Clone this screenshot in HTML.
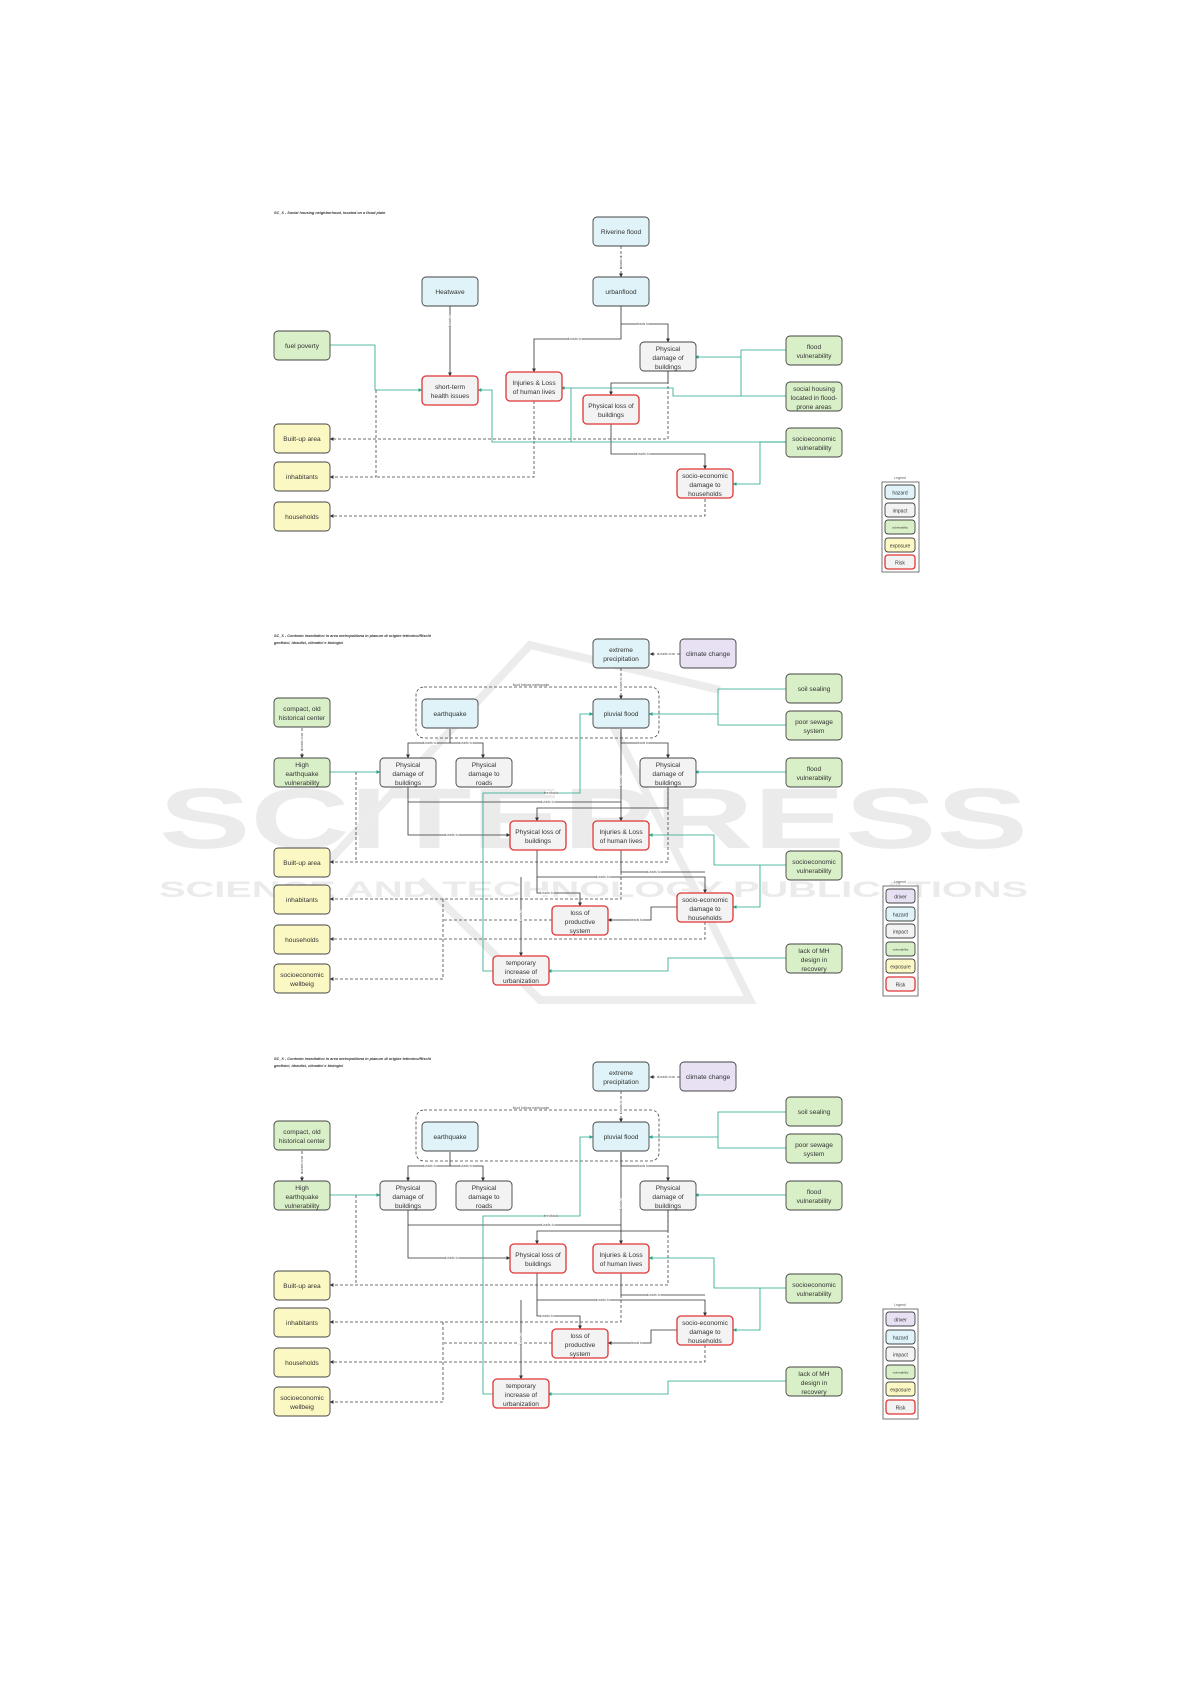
<!DOCTYPE html>
<html><head><meta charset="utf-8"><style>
html,body{margin:0;padding:0;background:#fff;}
svg{display:block;}
.t{font-family:"Liberation Sans",sans-serif;font-size:6.6px;fill:#333;text-anchor:middle;}
.l{font-family:"Liberation Sans",sans-serif;font-size:3.4px;fill:#555;text-anchor:middle;}
.ti{font-family:"Liberation Sans",sans-serif;font-size:3.8px;font-weight:bold;font-style:italic;fill:#333;}
.hz{fill:#dff3f8;stroke:#444;stroke-width:0.9;}
.im{fill:#f3f3f3;stroke:#444;stroke-width:0.9;}
.vu{fill:#d8efc8;stroke:#444;stroke-width:0.9;}
.ex{fill:#fcf8c4;stroke:#444;stroke-width:0.9;}
.dr{fill:#e7e1f3;stroke:#444;stroke-width:0.9;}
.rk{fill:#f3f3f3;stroke:#e03535;stroke-width:1.3;}
.k{fill:none;stroke:#333;stroke-width:0.8;}
.d{fill:none;stroke:#444;stroke-width:0.8;stroke-dasharray:3,2;}
.g{fill:none;stroke:#22a58b;stroke-width:0.8;}
.lb{fill:#fff;}
</style></head><body>
<svg width="1191" height="1684" viewBox="0 0 1191 1684" xmlns="http://www.w3.org/2000/svg">
<defs>
<marker id="a" viewBox="0 0 6 6" refX="5.5" refY="3" markerWidth="5" markerHeight="5" orient="auto"><path d="M0,0L6,3L0,6z" fill="#333"/></marker>
<marker id="ag" viewBox="0 0 6 6" refX="5.5" refY="3" markerWidth="5" markerHeight="5" orient="auto"><path d="M0,0L6,3L0,6z" fill="#22a58b"/></marker>
</defs>

<!-- watermark -->
<g fill="#ebebeb" font-family="Liberation Sans,sans-serif" font-weight="bold">
<text x="159" y="848" font-size="86" textLength="869" lengthAdjust="spacingAndGlyphs">SCITEPRESS</text>
<text x="159" y="897" font-size="22" textLength="869" lengthAdjust="spacingAndGlyphs">SCIENCE AND TECHNOLOGY PUBLICATIONS</text>
</g>
<path d="M330,860 L530,645 L720,690 M600,700 L750,1000 L540,1000 L420,880" fill="none" stroke="#ececec" stroke-width="8"/>

<!-- ============ DIAGRAM 1 ============ -->
<text class="ti" x="274" y="214">SC_X - Social housing neighborhood, located on a flood plain</text>

<!-- connectors -->
<path class="d" d="M621,246V277" marker-end="url(#a)"/>
<path class="k" d="M450,306V376" marker-end="url(#a)"/>
<path class="k" d="M621,306V339H534V372" marker-end="url(#a)"/>
<path class="k" d="M621,324H668V342" marker-end="url(#a)"/>
<path class="k" d="M668,371V383H611V395" marker-end="url(#a)"/>
<path class="d" d="M668,371V439H330" marker-end="url(#a)"/>
<path class="d" d="M376,390V477H330" marker-end="url(#a)"/>
<path class="d" d="M534,401V477H376"/>
<path class="k" d="M611,424V454H705V469" marker-end="url(#a)"/>
<path class="d" d="M705,499V516H330" marker-end="url(#a)"/>
<path class="g" d="M330,345H375V390H422" marker-end="url(#ag)"/>
<path class="g" d="M786,350H741V396"/>
<path class="g" d="M741,357H695" marker-end="url(#ag)"/>
<path class="g" d="M786,396H673V388H561" marker-end="url(#ag)"/>
<path class="g" d="M786,442H492V390H478" marker-end="url(#ag)"/>
<path class="g" d="M571,442V388"/>
<path class="g" d="M786,442H760V484H733" marker-end="url(#ag)"/>
<!-- labels -->
<rect class="lb" x="619" y="257" width="4" height="10"/><text class="l" transform="translate(622,262) rotate(-90)">Leads to</text>
<rect class="lb" x="448" y="314" width="4" height="12"/><text class="l" transform="translate(451,320) rotate(-90)">Leads to</text>
<rect class="lb" x="569" y="337" width="13" height="4"/><text class="l" x="575" y="340.2">Leads to</text>
<rect class="lb" x="637" y="322" width="12" height="4"/><text class="l" x="643" y="325.2">leads to</text>
<rect class="lb" x="637" y="452" width="13" height="4"/><text class="l" x="643" y="455.2">Leads to</text>

<!-- boxes -->
<rect class="hz" x="593" y="217" width="56" height="29" rx="4"/><text class="t" x="621" y="234">Riverine flood</text>
<rect class="hz" x="422" y="277" width="56" height="29" rx="4"/><text class="t" x="450" y="294">Heatwave</text>
<rect class="hz" x="593" y="277" width="56" height="29" rx="4"/><text class="t" x="621" y="294">urbanflood</text>
<rect class="vu" x="274" y="331" width="56" height="29" rx="4"/><text class="t" x="302" y="348">fuel poverty</text>
<rect class="rk" x="422" y="376" width="56" height="29" rx="4"/><text class="t" x="450" y="389">short-term</text><text class="t" x="450" y="398">health issues</text>
<rect class="rk" x="506" y="372" width="56" height="29" rx="4"/><text class="t" x="534" y="385">Injuries &amp; Loss</text><text class="t" x="534" y="394">of human lives</text>
<rect class="im" x="640" y="342" width="56" height="29" rx="4"/><text class="t" x="668" y="351">Physical</text><text class="t" x="668" y="360">damage of</text><text class="t" x="668" y="369">buildings</text>
<rect class="vu" x="786" y="336" width="56" height="29" rx="4"/><text class="t" x="814" y="349">flood</text><text class="t" x="814" y="358">vulnerability</text>
<rect class="vu" x="786" y="382" width="56" height="29" rx="4"/><text class="t" x="814" y="391">social housing</text><text class="t" x="814" y="400">located in flood-</text><text class="t" x="814" y="409">prone areas</text>
<rect class="rk" x="583" y="395" width="56" height="29" rx="4"/><text class="t" x="611" y="408">Physical loss of</text><text class="t" x="611" y="417">buildings</text>
<rect class="vu" x="786" y="428" width="56" height="29" rx="4"/><text class="t" x="814" y="441">socioeconomic</text><text class="t" x="814" y="450">vulnerability</text>
<rect class="ex" x="274" y="424" width="56" height="29" rx="4"/><text class="t" x="302" y="441">Built-up area</text>
<rect class="ex" x="274" y="462" width="56" height="29" rx="4"/><text class="t" x="302" y="479">inhabitants</text>
<rect class="ex" x="274" y="502" width="56" height="29" rx="4"/><text class="t" x="302" y="519">households</text>
<rect class="rk" x="677" y="469" width="56" height="29" rx="4"/><text class="t" x="705" y="478">socio-economic</text><text class="t" x="705" y="487">damage to</text><text class="t" x="705" y="496">households</text>
<!-- legend -->
<text class="l" x="900" y="479">Legend</text>
<rect x="882" y="482" width="37" height="90" fill="#fff" stroke="#555" stroke-width="0.8"/>
<rect class="hz" x="885" y="485" width="30" height="14" rx="3"/><text class="t" x="900" y="494.5" style="font-size:5px">hazard</text>
<rect class="im" x="885" y="503" width="30" height="14" rx="3"/><text class="t" x="900" y="512.5" style="font-size:5px">impact</text>
<rect class="vu" x="885" y="520" width="30" height="14" rx="3"/><text class="t" x="900" y="528.5" style="font-size:3px">vulnerability</text>
<rect class="ex" x="885" y="538" width="30" height="14" rx="3"/><text class="t" x="900" y="547.5" style="font-size:5px">exposure</text>
<rect class="rk" x="885" y="555" width="30" height="14" rx="3"/><text class="t" x="900" y="564.5" style="font-size:5px">Risk</text>

<!-- ============ DIAGRAM 2 ============ -->
<g>
<text class="ti" x="274" y="637">SC_X - Contesto insediativo in area metropolitana in pianure di origine tettonico/Rischi</text>
<text class="ti" x="274" y="644">geofisici, idraulici, climatici e biologici</text>
<rect x="416" y="687" width="243" height="51" rx="8" fill="none" stroke="#444" stroke-width="0.8" stroke-dasharray="3,2"/>
<text class="l" x="531" y="686">flood follows earthquake</text>
<path class="d" d="M680,654H650" marker-end="url(#a)"/>
<path class="d" d="M621,668V699" marker-end="url(#a)"/>
<path class="d" d="M302,728V758" marker-end="url(#a)"/>
<path class="k" d="M450,729V743H408V758" marker-end="url(#a)"/>
<path class="k" d="M450,743H483V758" marker-end="url(#a)"/>
<path class="k" d="M621,729V743H668V758" marker-end="url(#a)"/>
<path class="k" d="M621,729V821" marker-end="url(#a)"/>
<path class="k" d="M408,787V835H510" marker-end="url(#a)"/>
<path class="k" d="M408,802H621"/>
<path class="k" d="M668,787V808H537V821" marker-end="url(#a)"/>
<path class="d" d="M668,787V862H330" marker-end="url(#a)"/>
<path class="d" d="M356,772V862"/>
<path class="k" d="M537,850V877H705V893" marker-end="url(#a)"/>
<path class="k" d="M621,850V872H705"/>
<path class="k" d="M521,877V956" marker-end="url(#a)"/>
<path class="k" d="M537,877V893H580V906" marker-end="url(#a)"/>
<path class="k" d="M677,907H651V920H608" marker-end="url(#a)"/>
<path class="d" d="M621,872V899H330" marker-end="url(#a)"/>
<path class="d" d="M552,920H443"/>
<path class="d" d="M443,899V979H330" marker-end="url(#a)"/>
<path class="d" d="M705,922V939H330" marker-end="url(#a)"/>
<path class="g" d="M786,689H718V725H786"/>
<path class="g" d="M718,714H649" marker-end="url(#ag)"/>
<path class="g" d="M786,772H695" marker-end="url(#ag)"/>
<path class="g" d="M330,772H380" marker-end="url(#ag)"/>
<path class="g" d="M786,865H714V835H649" marker-end="url(#ag)"/>
<path class="g" d="M760,865V907H733" marker-end="url(#ag)"/>
<path class="g" d="M786,958H668V971H548" marker-end="url(#ag)"/>
<path class="g" d="M493,971H483V793H580V714H593" marker-end="url(#ag)"/>
<rect class="lb" x="659" y="652" width="13" height="4"/><text class="l" x="665" y="655.2">Leads to</text>
<rect class="lb" x="619" y="678" width="4" height="12"/><text class="l" transform="translate(622,684) rotate(-90)">Leads to</text>
<rect class="lb" x="300" y="737" width="4" height="12"/><text class="l" transform="translate(303,743) rotate(-90)">Leads to</text>
<rect class="lb" x="424" y="741" width="13" height="4"/><text class="l" x="430" y="744.2">Leads to</text>
<rect class="lb" x="460" y="741" width="13" height="4"/><text class="l" x="466" y="744.2">Leads to</text>
<rect class="lb" x="637" y="741" width="12" height="4"/><text class="l" x="643" y="744.2">leads to</text>
<rect class="lb" x="619" y="774" width="4" height="12"/><text class="l" transform="translate(622,780) rotate(-90)">Leads to</text>
<rect class="lb" x="446" y="833" width="13" height="4"/><text class="l" x="452" y="836.2">Leads to</text>
<rect class="lb" x="542" y="800" width="13" height="4"/><text class="l" x="548" y="803.2">Leads to</text>
<rect class="lb" x="597" y="875" width="13" height="4"/><text class="l" x="603" y="878.2">Leads to</text>
<rect class="lb" x="648" y="870" width="13" height="4"/><text class="l" x="654" y="873.2">Leads to</text>
<rect class="lb" x="519" y="909" width="4" height="12"/><text class="l" transform="translate(522,915) rotate(-90)">Leads to</text>
<rect class="lb" x="541" y="891" width="13" height="4"/><text class="l" x="547" y="894.2">Leads to</text>
<rect class="lb" x="631" y="918" width="12" height="4"/><text class="l" x="637" y="921.2">leads to</text>
<rect class="lb" x="545" y="791" width="12" height="4"/><text class="l" x="551" y="794.2">feedback</text>

<rect class="hz" x="593" y="639" width="56" height="29" rx="4"/><text class="t" x="621" y="652">extreme</text><text class="t" x="621" y="661">precipitation</text>
<rect class="dr" x="680" y="639" width="56" height="29" rx="4"/><text class="t" x="708" y="656">climate change</text>
<rect class="vu" x="786" y="674" width="56" height="29" rx="4"/><text class="t" x="814" y="691">soil sealing</text>
<rect class="vu" x="786" y="711" width="56" height="29" rx="4"/><text class="t" x="814" y="724">poor sewage</text><text class="t" x="814" y="733">system</text>
<rect class="vu" x="274" y="698" width="56" height="29" rx="4"/><text class="t" x="302" y="711">compact, old</text><text class="t" x="302" y="720">historical center</text>
<rect class="vu" x="274" y="758" width="56" height="29" rx="4"/><text class="t" x="302" y="767">High</text><text class="t" x="302" y="776">earthquake</text><text class="t" x="302" y="785">vulnerability</text>
<rect class="hz" x="422" y="699" width="56" height="29" rx="4"/><text class="t" x="450" y="716">earthquake</text>
<rect class="hz" x="593" y="699" width="56" height="29" rx="4"/><text class="t" x="621" y="716">pluvial flood</text>
<rect class="im" x="380" y="758" width="56" height="29" rx="4"/><text class="t" x="408" y="767">Physical</text><text class="t" x="408" y="776">damage of</text><text class="t" x="408" y="785">buildings</text>
<rect class="im" x="456" y="758" width="56" height="29" rx="4"/><text class="t" x="484" y="767">Physical</text><text class="t" x="484" y="776">damage to</text><text class="t" x="484" y="785">roads</text>
<rect class="im" x="640" y="758" width="56" height="29" rx="4"/><text class="t" x="668" y="767">Physical</text><text class="t" x="668" y="776">damage of</text><text class="t" x="668" y="785">buildings</text>
<rect class="vu" x="786" y="758" width="56" height="29" rx="4"/><text class="t" x="814" y="771">flood</text><text class="t" x="814" y="780">vulnerability</text>
<rect class="rk" x="510" y="821" width="56" height="29" rx="4"/><text class="t" x="538" y="834">Physical loss of</text><text class="t" x="538" y="843">buildings</text>
<rect class="rk" x="593" y="821" width="56" height="29" rx="4"/><text class="t" x="621" y="834">Injuries &amp; Loss</text><text class="t" x="621" y="843">of human lives</text>
<rect class="ex" x="274" y="848" width="56" height="29" rx="4"/><text class="t" x="302" y="865">Built-up area</text>
<rect class="vu" x="786" y="851" width="56" height="29" rx="4"/><text class="t" x="814" y="864">socioeconomic</text><text class="t" x="814" y="873">vulnerability</text>
<rect class="ex" x="274" y="885" width="56" height="29" rx="4"/><text class="t" x="302" y="902">inhabitants</text>
<rect class="rk" x="677" y="893" width="56" height="29" rx="4"/><text class="t" x="705" y="902">socio-economic</text><text class="t" x="705" y="911">damage to</text><text class="t" x="705" y="920">households</text>
<rect class="rk" x="552" y="906" width="56" height="29" rx="4"/><text class="t" x="580" y="915">loss of</text><text class="t" x="580" y="924">productive</text><text class="t" x="580" y="933">system</text>
<rect class="ex" x="274" y="925" width="56" height="29" rx="4"/><text class="t" x="302" y="942">households</text>
<rect class="vu" x="786" y="944" width="56" height="29" rx="4"/><text class="t" x="814" y="953">lack of MH</text><text class="t" x="814" y="962">design in</text><text class="t" x="814" y="971">recovery</text>
<rect class="rk" x="493" y="956" width="56" height="29" rx="4"/><text class="t" x="521" y="965">temporary</text><text class="t" x="521" y="974">increase of</text><text class="t" x="521" y="983">urbanization</text>
<rect class="ex" x="274" y="964" width="56" height="29" rx="4"/><text class="t" x="302" y="977">socioeconomic</text><text class="t" x="302" y="986">wellbeig</text>
<text class="l" x="900" y="883">Legend</text>
<rect x="883" y="886" width="35" height="110" fill="#fff" stroke="#555" stroke-width="0.8"/>
<rect class="dr" x="886" y="889" width="29" height="14" rx="3"/><text class="t" x="900.5" y="898.5" style="font-size:5px">driver</text>
<rect class="hz" x="886" y="907" width="29" height="14" rx="3"/><text class="t" x="900.5" y="916.5" style="font-size:5px">hazard</text>
<rect class="im" x="886" y="924" width="29" height="14" rx="3"/><text class="t" x="900.5" y="933.5" style="font-size:5px">impact</text>
<rect class="vu" x="886" y="942" width="29" height="14" rx="3"/><text class="t" x="900.5" y="950.5" style="font-size:3px">vulnerability</text>
<rect class="ex" x="886" y="959" width="29" height="14" rx="3"/><text class="t" x="900.5" y="968.5" style="font-size:5px">exposure</text>
<rect class="rk" x="886" y="977" width="29" height="14" rx="3"/><text class="t" x="900.5" y="986.5" style="font-size:5px">Risk</text>
</g>

<!-- ============ DIAGRAM 3 ============ -->
<g transform="translate(0,423)">
<text class="ti" x="274" y="637">SC_X - Contesto insediativo in area metropolitana in pianure di origine tettonico/Rischi</text>
<text class="ti" x="274" y="644">geofisici, idraulici, climatici e biologici</text>
<rect x="416" y="687" width="243" height="51" rx="8" fill="none" stroke="#444" stroke-width="0.8" stroke-dasharray="3,2"/>
<text class="l" x="531" y="686">flood follows earthquake</text>
<path class="d" d="M680,654H650" marker-end="url(#a)"/>
<path class="d" d="M621,668V699" marker-end="url(#a)"/>
<path class="d" d="M302,728V758" marker-end="url(#a)"/>
<path class="k" d="M450,729V743H408V758" marker-end="url(#a)"/>
<path class="k" d="M450,743H483V758" marker-end="url(#a)"/>
<path class="k" d="M621,729V743H668V758" marker-end="url(#a)"/>
<path class="k" d="M621,729V821" marker-end="url(#a)"/>
<path class="k" d="M408,787V835H510" marker-end="url(#a)"/>
<path class="k" d="M408,802H621"/>
<path class="k" d="M668,787V808H537V821" marker-end="url(#a)"/>
<path class="d" d="M668,787V862H330" marker-end="url(#a)"/>
<path class="d" d="M356,772V862"/>
<path class="k" d="M537,850V877H705V893" marker-end="url(#a)"/>
<path class="k" d="M621,850V872H705"/>
<path class="k" d="M521,877V956" marker-end="url(#a)"/>
<path class="k" d="M537,877V893H580V906" marker-end="url(#a)"/>
<path class="k" d="M677,907H651V920H608" marker-end="url(#a)"/>
<path class="d" d="M621,872V899H330" marker-end="url(#a)"/>
<path class="d" d="M552,920H443"/>
<path class="d" d="M443,899V979H330" marker-end="url(#a)"/>
<path class="d" d="M705,922V939H330" marker-end="url(#a)"/>
<path class="g" d="M786,689H718V725H786"/>
<path class="g" d="M718,714H649" marker-end="url(#ag)"/>
<path class="g" d="M786,772H695" marker-end="url(#ag)"/>
<path class="g" d="M330,772H380" marker-end="url(#ag)"/>
<path class="g" d="M786,865H714V835H649" marker-end="url(#ag)"/>
<path class="g" d="M760,865V907H733" marker-end="url(#ag)"/>
<path class="g" d="M786,958H668V971H548" marker-end="url(#ag)"/>
<path class="g" d="M493,971H483V793H580V714H593" marker-end="url(#ag)"/>
<rect class="lb" x="659" y="652" width="13" height="4"/><text class="l" x="665" y="655.2">Leads to</text>
<rect class="lb" x="619" y="678" width="4" height="12"/><text class="l" transform="translate(622,684) rotate(-90)">Leads to</text>
<rect class="lb" x="300" y="737" width="4" height="12"/><text class="l" transform="translate(303,743) rotate(-90)">Leads to</text>
<rect class="lb" x="424" y="741" width="13" height="4"/><text class="l" x="430" y="744.2">Leads to</text>
<rect class="lb" x="460" y="741" width="13" height="4"/><text class="l" x="466" y="744.2">Leads to</text>
<rect class="lb" x="637" y="741" width="12" height="4"/><text class="l" x="643" y="744.2">leads to</text>
<rect class="lb" x="619" y="774" width="4" height="12"/><text class="l" transform="translate(622,780) rotate(-90)">Leads to</text>
<rect class="lb" x="446" y="833" width="13" height="4"/><text class="l" x="452" y="836.2">Leads to</text>
<rect class="lb" x="542" y="800" width="13" height="4"/><text class="l" x="548" y="803.2">Leads to</text>
<rect class="lb" x="597" y="875" width="13" height="4"/><text class="l" x="603" y="878.2">Leads to</text>
<rect class="lb" x="648" y="870" width="13" height="4"/><text class="l" x="654" y="873.2">Leads to</text>
<rect class="lb" x="519" y="909" width="4" height="12"/><text class="l" transform="translate(522,915) rotate(-90)">Leads to</text>
<rect class="lb" x="541" y="891" width="13" height="4"/><text class="l" x="547" y="894.2">Leads to</text>
<rect class="lb" x="631" y="918" width="12" height="4"/><text class="l" x="637" y="921.2">leads to</text>
<rect class="lb" x="545" y="791" width="12" height="4"/><text class="l" x="551" y="794.2">feedback</text>

<rect class="hz" x="593" y="639" width="56" height="29" rx="4"/><text class="t" x="621" y="652">extreme</text><text class="t" x="621" y="661">precipitation</text>
<rect class="dr" x="680" y="639" width="56" height="29" rx="4"/><text class="t" x="708" y="656">climate change</text>
<rect class="vu" x="786" y="674" width="56" height="29" rx="4"/><text class="t" x="814" y="691">soil sealing</text>
<rect class="vu" x="786" y="711" width="56" height="29" rx="4"/><text class="t" x="814" y="724">poor sewage</text><text class="t" x="814" y="733">system</text>
<rect class="vu" x="274" y="698" width="56" height="29" rx="4"/><text class="t" x="302" y="711">compact, old</text><text class="t" x="302" y="720">historical center</text>
<rect class="vu" x="274" y="758" width="56" height="29" rx="4"/><text class="t" x="302" y="767">High</text><text class="t" x="302" y="776">earthquake</text><text class="t" x="302" y="785">vulnerability</text>
<rect class="hz" x="422" y="699" width="56" height="29" rx="4"/><text class="t" x="450" y="716">earthquake</text>
<rect class="hz" x="593" y="699" width="56" height="29" rx="4"/><text class="t" x="621" y="716">pluvial flood</text>
<rect class="im" x="380" y="758" width="56" height="29" rx="4"/><text class="t" x="408" y="767">Physical</text><text class="t" x="408" y="776">damage of</text><text class="t" x="408" y="785">buildings</text>
<rect class="im" x="456" y="758" width="56" height="29" rx="4"/><text class="t" x="484" y="767">Physical</text><text class="t" x="484" y="776">damage to</text><text class="t" x="484" y="785">roads</text>
<rect class="im" x="640" y="758" width="56" height="29" rx="4"/><text class="t" x="668" y="767">Physical</text><text class="t" x="668" y="776">damage of</text><text class="t" x="668" y="785">buildings</text>
<rect class="vu" x="786" y="758" width="56" height="29" rx="4"/><text class="t" x="814" y="771">flood</text><text class="t" x="814" y="780">vulnerability</text>
<rect class="rk" x="510" y="821" width="56" height="29" rx="4"/><text class="t" x="538" y="834">Physical loss of</text><text class="t" x="538" y="843">buildings</text>
<rect class="rk" x="593" y="821" width="56" height="29" rx="4"/><text class="t" x="621" y="834">Injuries &amp; Loss</text><text class="t" x="621" y="843">of human lives</text>
<rect class="ex" x="274" y="848" width="56" height="29" rx="4"/><text class="t" x="302" y="865">Built-up area</text>
<rect class="vu" x="786" y="851" width="56" height="29" rx="4"/><text class="t" x="814" y="864">socioeconomic</text><text class="t" x="814" y="873">vulnerability</text>
<rect class="ex" x="274" y="885" width="56" height="29" rx="4"/><text class="t" x="302" y="902">inhabitants</text>
<rect class="rk" x="677" y="893" width="56" height="29" rx="4"/><text class="t" x="705" y="902">socio-economic</text><text class="t" x="705" y="911">damage to</text><text class="t" x="705" y="920">households</text>
<rect class="rk" x="552" y="906" width="56" height="29" rx="4"/><text class="t" x="580" y="915">loss of</text><text class="t" x="580" y="924">productive</text><text class="t" x="580" y="933">system</text>
<rect class="ex" x="274" y="925" width="56" height="29" rx="4"/><text class="t" x="302" y="942">households</text>
<rect class="vu" x="786" y="944" width="56" height="29" rx="4"/><text class="t" x="814" y="953">lack of MH</text><text class="t" x="814" y="962">design in</text><text class="t" x="814" y="971">recovery</text>
<rect class="rk" x="493" y="956" width="56" height="29" rx="4"/><text class="t" x="521" y="965">temporary</text><text class="t" x="521" y="974">increase of</text><text class="t" x="521" y="983">urbanization</text>
<rect class="ex" x="274" y="964" width="56" height="29" rx="4"/><text class="t" x="302" y="977">socioeconomic</text><text class="t" x="302" y="986">wellbeig</text>
<text class="l" x="900" y="883">Legend</text>
<rect x="883" y="886" width="35" height="110" fill="#fff" stroke="#555" stroke-width="0.8"/>
<rect class="dr" x="886" y="889" width="29" height="14" rx="3"/><text class="t" x="900.5" y="898.5" style="font-size:5px">driver</text>
<rect class="hz" x="886" y="907" width="29" height="14" rx="3"/><text class="t" x="900.5" y="916.5" style="font-size:5px">hazard</text>
<rect class="im" x="886" y="924" width="29" height="14" rx="3"/><text class="t" x="900.5" y="933.5" style="font-size:5px">impact</text>
<rect class="vu" x="886" y="942" width="29" height="14" rx="3"/><text class="t" x="900.5" y="950.5" style="font-size:3px">vulnerability</text>
<rect class="ex" x="886" y="959" width="29" height="14" rx="3"/><text class="t" x="900.5" y="968.5" style="font-size:5px">exposure</text>
<rect class="rk" x="886" y="977" width="29" height="14" rx="3"/><text class="t" x="900.5" y="986.5" style="font-size:5px">Risk</text>
</g>
</svg>
</body></html>
